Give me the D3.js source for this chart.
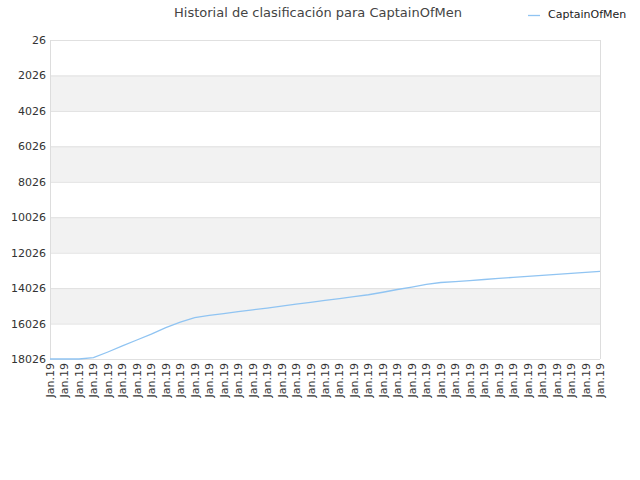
<!DOCTYPE html>
<html><head><meta charset="utf-8">
<script src="https://cdn.jsdelivr.net/npm/d3@7"></script>
<style>body{margin:0;background:#fff}</style>
</head><body>
<svg id="chart" width="640" height="480"></svg>
<script>
// rank values, one per label
const ranks = [18026,18026,18026,17950,17630,17290,16955,16620,16260,15940,15690,15570,15460,15350,15250,15150,15040,14935,14830,14720,14620,14510,14400,14260,14105,13965,13810,13710,13655,13600,13540,13480,13420,13365,13310,13255,13200,13140,13080];
const labels = ranks.map(() => "Jan.19");
const yTicks = [26,2026,4026,6026,8026,10026,12026,14026,16026,18026];
const title = "Historial de clasificación para CaptainOfMen";
const seriesName = "CaptainOfMen";

const svg = d3.select("#chart").style("font-family","'DejaVu Sans', sans-serif");
const mLeft = 50, mRight = 600, mTop = 40, mBottom = 359;

const x = d3.scalePoint().domain(d3.range(labels.length)).range([mLeft, mRight]);
const y = d3.scaleLinear().domain([26, 18026]).range([mTop, mBottom]);

// alternating bands
for (let i = 0; i < yTicks.length - 1; i++) {
  if (i % 2 == 1) {
    svg.append("rect").attr("x", mLeft).attr("width", mRight-mLeft)
      .attr("y", y(yTicks[i])).attr("height", y(yTicks[i+1]) - y(yTicks[i]))
      .attr("fill", "#f2f2f2");
  }
}
svg.selectAll(".grid").data(yTicks).enter().append("line")
  .attr("x1", mLeft).attr("x2", mRight)
  .attr("y1", d => y(d)+0.5).attr("y2", d => y(d)+0.5)
  .attr("stroke", "#e0e0e0");
svg.append("line").attr("x1", mLeft+0.5).attr("x2", mLeft+0.5).attr("y1", mTop).attr("y2", mBottom).attr("stroke","#ddd");
svg.append("line").attr("x1", mRight+0.5).attr("x2", mRight+0.5).attr("y1", mTop).attr("y2", mBottom).attr("stroke","#ddd");

svg.selectAll(".yl").data(yTicks).enter().append("text")
  .attr("x", mLeft - 4).attr("y", d => y(d) + 4)
  .attr("text-anchor", "end").attr("font-size", 11).attr("fill", "#333")
  .text(d => d);

svg.selectAll(".xl").data(labels).enter().append("text")
  .attr("transform", (d,i) => "translate(" + (x(i)+4) + "," + (mBottom + 4) + ") rotate(-90)")
  .attr("text-anchor", "end").attr("font-size", 11).attr("fill", "#333")
  .text(d => d);

const line = d3.line().x((d,i) => x(i)).y(d => y(d));
svg.append("path").datum(ranks).attr("d", line)
  .attr("fill", "none").attr("stroke", "#90c4f2").attr("stroke-width", 1.3);

svg.append("text").attr("x", 318).attr("y", 17).attr("text-anchor", "middle")
  .attr("font-size", 13).attr("fill", "#444").text(title);

svg.append("line").attr("x1", 528).attr("x2", 540).attr("y1", 15.5).attr("y2", 15.5)
  .attr("stroke", "#90c4f2").attr("stroke-width", 1.3);
svg.append("text").attr("x", 548).attr("y", 18).attr("font-size", 11).attr("fill", "#222").text(seriesName);
</script>
</body></html>
